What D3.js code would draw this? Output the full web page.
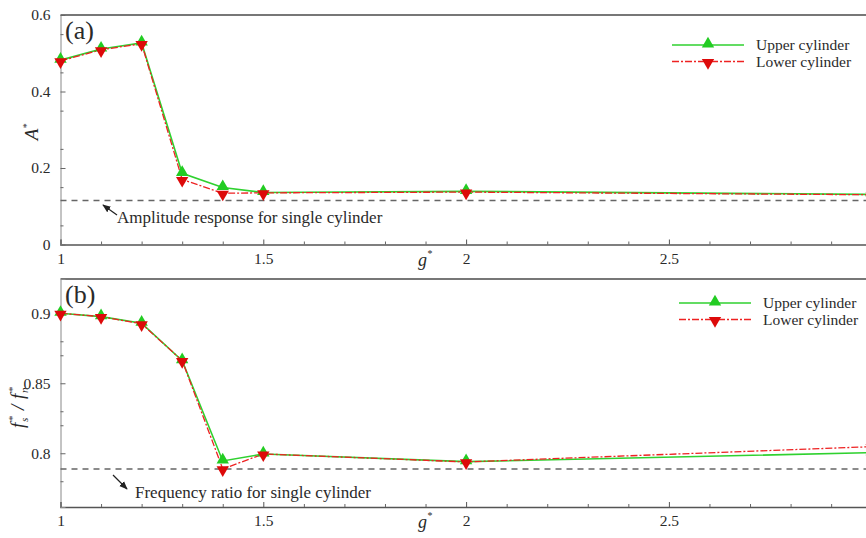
<!DOCTYPE html>
<html>
<head>
<meta charset="utf-8">
<script src="https://cdn.jsdelivr.net/npm/d3@7"></script>
<style>
  html, body { margin: 0; padding: 0; background: #fff; overflow: hidden; }
  svg { display: block; }
  svg text { font-family: "Liberation Serif", "DejaVu Serif", "Times New Roman", serif !important; fill: #2a2a2a; }
</style>
</head>
<body>
<script>
// Gap ratio g* at which both cylinders were simulated
const gapRatio = [1, 1.1, 1.2, 1.3, 1.4, 1.5, 2, 3];

// (a) amplitude response A*
const ampUpper = [0.482, 0.511, 0.527, 0.186, 0.149, 0.136, 0.139, 0.131];
const ampLower = [0.480, 0.509, 0.525, 0.170, 0.134, 0.135, 0.137, 0.130];
const ampSingle = 0.115;

// (b) frequency ratio fs*/fn*
const freqUpper = [0.900, 0.8976, 0.8929, 0.8662, 0.7945, 0.7995, 0.794, 0.8004];
const freqLower = [0.900, 0.8976, 0.8925, 0.8662, 0.7888, 0.7995, 0.7938, 0.8047];
const freqSingle = 0.7888;

const xTicks = [1, 1.5, 2, 2.5];
const ampTicks = [0, 0.2, 0.4, 0.6];
const freqTicks = [0.8, 0.85, 0.9];

const legendNames = ["Upper cylinder", "Lower cylinder"];

const W = 880, H = 538;
const FONT = "'Liberation Serif', 'DejaVu Serif', serif";
const svg = d3.select("body").append("svg").attr("width", W).attr("height", H)
  .attr("font-family", FONT);

const green = "#2fd12f", red = "#ee2222";

const defs = svg.append("defs");
defs.append("marker").attr("id", "arrow")
  .attr("viewBox", "0 0 10 10").attr("refX", 9).attr("refY", 5)
  .attr("markerWidth", 7).attr("markerHeight", 7).attr("orient", "auto")
  .append("path").attr("d", "M0,1 L10,5 L0,9 Z").attr("fill", "#222");

const triUp = d3.symbol().type(d3.symbolTriangle).size(66);

function panel(cfg) {
  const x = d3.scaleLinear().domain([1, 3]).range([60.5, 871.7]);
  const y = d3.scaleLinear().domain(cfg.yDomain).range([cfg.bottom, cfg.top]);
  const g = svg.append("g");

  // frame
  g.append("line").attr("x1", x(1)).attr("x2", x(3)).attr("y1", cfg.top).attr("y2", cfg.top)
    .attr("stroke", "#777").attr("stroke-width", 2);
  g.append("line").attr("x1", x(3)).attr("x2", x(3)).attr("y1", cfg.top).attr("y2", cfg.bottom)
    .attr("stroke", "#777").attr("stroke-width", 1);

  // x axis with inward ticks
  const xAxis = d3.axisBottom(x).tickValues(xTicks).tickSize(-5).tickPadding(8)
    .tickFormat(d3.format("~g"));
  const xa = g.append("g").attr("transform", `translate(0,${cfg.bottom})`).call(xAxis)
    .attr("font-family", FONT);
  xa.select(".domain").attr("stroke", "#555").attr("stroke-width", 1.6);
  xa.selectAll(".tick line").attr("stroke", "#555");
  xa.selectAll("text").attr("font-size", 15.5);
  const xMinor = d3.axisBottom(x)
    .tickValues(d3.range(11, 30).filter(v => v % 5 !== 0).map(v => v / 10))
    .tickSize(-3).tickFormat("");
  const xm = g.append("g").attr("transform", `translate(0,${cfg.bottom})`).call(xMinor);
  xm.select(".domain").remove();
  xm.selectAll(".tick line").attr("stroke", "#666");

  // y axis with inward ticks
  const yAxis = d3.axisLeft(y).tickValues(cfg.yTicks).tickSize(-5).tickPadding(10)
    .tickFormat(d3.format("~g"));
  const ya = g.append("g").attr("transform", `translate(${x(1)},0)`).call(yAxis)
    .attr("font-family", FONT);
  ya.select(".domain").attr("stroke", "#888").attr("stroke-width", 1);
  ya.selectAll(".tick line").attr("stroke", "#666");
  ya.selectAll("text").attr("font-size", 15.5);
  const yMinor = d3.axisLeft(y).tickValues(cfg.yMinor).tickSize(-3).tickFormat("");
  const ym = g.append("g").attr("transform", `translate(${x(1)},0)`).call(yMinor);
  ym.select(".domain").remove();
  ym.selectAll(".tick line").attr("stroke", "#666");

  // reference line for a single cylinder
  g.append("line").attr("x1", x(1)).attr("x2", x(3))
    .attr("y1", y(cfg.single)).attr("y2", y(cfg.single))
    .attr("stroke", "#666").attr("stroke-width", 1.5).attr("stroke-dasharray", "6,5");

  const line = d3.line().x((d, i) => x(gapRatio[i])).y(d => y(d));
  g.append("path").datum(cfg.upper).attr("d", line).attr("fill", "none")
    .attr("stroke", green).attr("stroke-width", 1.6);
  g.append("path").datum(cfg.lower).attr("d", line).attr("fill", "none")
    .attr("stroke", red).attr("stroke-width", 1.3).attr("stroke-dasharray", "7,2,2,2");

  g.selectAll(".mu").data(cfg.upper).join("path")
    .attr("d", triUp).attr("fill", "#22cc22")
    .attr("transform", (d, i) => `translate(${x(gapRatio[i])},${y(d) - 1})`);
  g.selectAll(".ml").data(cfg.lower).join("path")
    .attr("d", triUp).attr("fill", "#dd0a0a")
    .attr("transform", (d, i) => `translate(${x(gapRatio[i])},${y(d) + 1}) rotate(180)`);

  // panel tag
  g.append("text").attr("x", 65).attr("y", cfg.top + 24).attr("font-size", 26).text(cfg.tag);

  // legend
  const L = cfg.legend;
  [0, 1].forEach(k => {
    const ly = L.y + k * 16.5;
    g.append("line").attr("x1", L.x).attr("x2", L.x + 72).attr("y1", ly).attr("y2", ly)
      .attr("stroke", k === 0 ? green : red).attr("stroke-width", k === 0 ? 1.6 : 1.3)
      .attr("stroke-dasharray", k === 0 ? null : "7,2,2,2");
    g.append("path").attr("d", triUp).attr("fill", k === 0 ? "#22cc22" : "#dd0a0a")
      .attr("transform", `translate(${L.x + 36},${ly + (k === 0 ? -1 : 1)})${k === 0 ? "" : " rotate(180)"}`);
    g.append("text").attr("x", L.x + 84).attr("y", ly + 5).attr("font-size", 15.5).text(legendNames[k]);
  });

  // annotation
  const A = cfg.note;
  g.append("line").attr("x1", A.x1).attr("y1", A.y1).attr("x2", A.x2).attr("y2", A.y2)
    .attr("stroke", "#222").attr("stroke-width", 1.2).attr("marker-end", "url(#arrow)");
  g.append("text").attr("x", A.tx).attr("y", A.ty).attr("font-size", 17).text(A.text);

  // axis titles
  const gx = g.append("text").attr("x", 418).attr("y", cfg.bottom + 21)
    .attr("font-size", 18).attr("font-style", "italic");
  gx.append("tspan").text("g");
  gx.append("tspan").attr("font-size", 10).attr("dy", -9).text("*");

  return { x, y, g };
}

// (a)
const pa = panel({
  top: 15, bottom: 244.5, yDomain: [0, 0.6], yTicks: ampTicks,
  yMinor: d3.range(1, 12, 2).map(v => v * 0.05),
  upper: ampUpper, lower: ampLower, single: ampSingle, tag: "(a)",
  legend: { x: 672, y: 45 },
  note: { x1: 117, y1: 215, x2: 103, y2: 205, tx: 117, ty: 223,
          text: "Amplitude response for single cylinder" }
});
const ta = pa.g.append("text").attr("transform", "translate(38,132) rotate(-90)")
  .attr("text-anchor", "middle").attr("font-size", 19).attr("font-style", "italic");
ta.append("tspan").text("A");
ta.append("tspan").attr("font-size", 10).attr("dy", -8).text("*");

// (b)
const pb = panel({
  top: 279, bottom: 507, yDomain: [0.7616, 0.9245], yTicks: freqTicks,
  yMinor: [0.78, 0.82, 0.83, 0.87, 0.88],
  upper: freqUpper, lower: freqLower, single: freqSingle, tag: "(b)",
  legend: { x: 679, y: 303 },
  note: { x1: 113, y1: 475, x2: 127, y2: 489, tx: 135, ty: 498,
          text: "Frequency ratio for single cylinder" }
});

// fs*/fn* built piece by piece along the rotated baseline
const tb = pb.g.append("g").attr("transform", "translate(24,428) rotate(-90)")
  .attr("font-style", "italic");
const parts = [
  { t: "f", dx: 0, dy: 0, fs: 19 },
  { t: "*", dx: 7, dy: -8, fs: 10 },
  { t: "s", dx: 6, dy: 4, fs: 11 },
  { t: "/", dx: 18, dy: 0, fs: 19 },
  { t: "f", dx: 29, dy: 0, fs: 19 },
  { t: "*", dx: 36, dy: -8, fs: 10 },
  { t: "n", dx: 35, dy: 4, fs: 11 }
];
tb.selectAll("text").data(parts).join("text")
  .attr("x", d => d.dx).attr("y", d => d.dy).attr("font-size", d => d.fs).text(d => d.t);
</script>
</body>
</html>
